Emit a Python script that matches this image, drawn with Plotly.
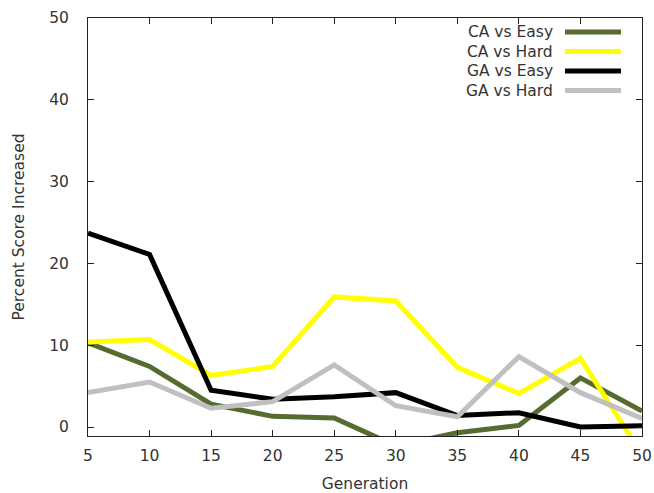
import plotly.graph_objects as go

generations = [5, 10, 15, 20, 25, 30, 35, 40, 45, 50]
ca_easy = [10.3, 7.4, 2.8, 1.3, 1.1, -2.3, -0.7, 0.2, 6.0, 1.95]
ca_hard = [10.4, 10.7, 6.3, 7.4, 15.9, 15.4, 7.3, 4.1, 8.4, -3.4]
ga_easy = [23.7, 21.1, 4.5, 3.4, 3.7, 4.2, 1.4, 1.75, 0.0, 0.15]
ga_hard = [4.2, 5.5, 2.3, 3.1, 7.6, 2.6, 1.25, 8.6, 4.2, 1.05]

names = ["CA vs Easy", "CA vs Hard", "GA vs Easy", "GA vs Hard"]
series = [ca_easy, ca_hard, ga_easy, ga_hard]
colors = ["#556b2f", "#ffff00", "#000000", "#c0c0c0"]

x_ticks = [5, 10, 15, 20, 25, 30, 35, 40, 45, 50]
y_ticks = [0, 10, 20, 30, 40, 50]

FONT = "DejaVu Sans"
FS = 15.5
TXT = "#333333"

fig = go.Figure()
for n, s, c in zip(names, series, colors):
    fig.add_trace(go.Scatter(x=generations, y=s, mode="lines", name=n,
                             line=dict(color=c, width=5), showlegend=False))

# manual gnuplot-style legend (text right, sample line to the right)
leg_y0 = 32
leg_dy = 19.5
plot_top, plot_h = 18, 418
plot_left, plot_w = 88, 554
for i, (n, c) in enumerate(zip(names, colors)):
    ypx = leg_y0 + i * leg_dy
    yp = 1 - (ypx - plot_top) / plot_h
    fig.add_annotation(x=(555 - plot_left) / plot_w, y=yp, xref="paper", yref="paper",
                       text=n, showarrow=False, xanchor="right", yanchor="middle",
                       font=dict(family=FONT, size=FS, color=TXT))
    fig.add_shape(type="line", xref="paper", yref="paper",
                  x0=(565 - plot_left) / plot_w, x1=(621 - plot_left) / plot_w,
                  y0=yp, y1=yp, line=dict(color=c, width=5))

axis_common = dict(showline=True, linecolor="#222222", linewidth=1, mirror="ticks",
                   ticks="inside", ticklen=6, tickcolor="#222222", showgrid=False,
                   zeroline=False, automargin=False,
                   tickfont=dict(family=FONT, size=FS, color=TXT))

fig.update_layout(
    width=654, height=493,
    margin=dict(l=88, r=12, t=18, b=57),
    paper_bgcolor="white", plot_bgcolor="white",
    xaxis=dict(range=[5, 50], tickvals=x_ticks, ticktext=[str(v) for v in x_ticks],
               ticklabelstandoff=5,
               title=dict(text="Generation", font=dict(family=FONT, size=FS, color=TXT), standoff=14),
               **axis_common),
    yaxis=dict(range=[-1.1, 50], tickvals=y_ticks, ticktext=[str(v) for v in y_ticks],
               ticklabelstandoff=15,
               title=dict(text="Percent Score Increased", font=dict(family=FONT, size=FS, color=TXT), standoff=20),
               **axis_common),
)

fig.write_html("out.html")
